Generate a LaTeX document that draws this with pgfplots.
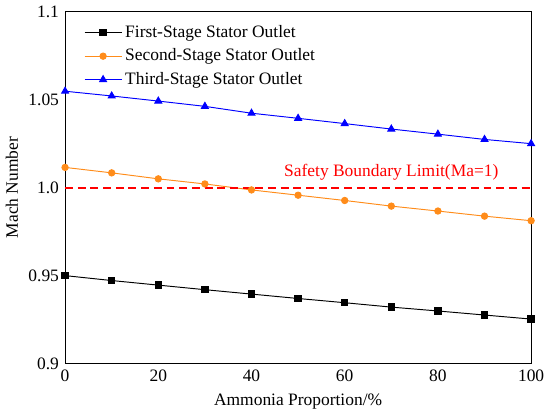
\documentclass[border=0pt]{standalone}
\usepackage{pgfplots}
\pgfplotsset{compat=1.18}
\usepackage{fontspec}
\setmainfont{Liberation Serif}
\definecolor{myorange}{RGB}{255,140,26}
\definecolor{myblue}{RGB}{0,0,255}
\definecolor{myred}{RGB}{255,0,0}
\begin{document}
\fontsize{11}{13}\selectfont
\begin{tikzpicture}
\begin{axis}[
  scale only axis,
  width=294pt, height=222pt,
  xmin=0, xmax=100, ymin=0.9, ymax=1.1,
  xtick={0,20,40,60,80,100},
  ytick={0.9,0.95,1.0,1.05,1.1},
  yticklabels={0.9,0.95,1.0,1.05,1.1},
  major tick length=0pt,
  tick label style={font=\fontsize{11}{13}\selectfont},
  label style={font=\fontsize{11}{13}\selectfont},
  /pgf/number format/assume math mode=true,
  xlabel={Ammonia Proportion/\%},
  ylabel={Mach Number},
  ylabel style={yshift=-1pt},
  axis line style={line width=0.6pt},
  legend style={draw=none, fill=none, at={(0.03,0.98)}, anchor=north west,
    font=\fontsize{11}{13}\selectfont, row sep=1.5pt},
  legend cell align=left,
  legend image code/.code={\draw[mark repeat=2,mark phase=2] plot coordinates {(0cm,0cm) (0.41cm,0cm) (0.82cm,0cm)};},
]
\addplot[black, line width=0.6pt, mark=square*, mark size=2pt] coordinates {
(0,0.950) (10,0.9472) (20,0.9446) (30,0.9420) (40,0.9395) (50,0.9370) (60,0.9346) (70,0.9321) (80,0.9299) (90,0.9276) (100,0.9253)};
\addlegendentry{First-Stage Stator Outlet}
\addplot[myorange, line width=0.6pt, mark=*, mark size=2pt] coordinates {
(0,1.0115) (10,1.0084) (20,1.0050) (30,1.0021) (40,0.9987) (50,0.9957) (60,0.9927) (70,0.9895) (80,0.9867) (90,0.9838) (100,0.9812)};
\addlegendentry{Second-Stage Stator Outlet}
\addplot[myblue, line width=0.6pt, mark=triangle*, mark size=2.5pt] coordinates {
(0,1.0548) (10,1.0521) (20,1.0492) (30,1.0462) (40,1.0423) (50,1.0394) (60,1.0364) (70,1.0333) (80,1.0304) (90,1.0274) (100,1.0250)};
\addlegendentry{Third-Stage Stator Outlet}
\addplot[myred, line width=1.4pt, dash pattern=on 5pt off 3pt, forget plot] coordinates {(0,1.0) (100,1.0)};
\node[text=myred, font=\fontsize{11}{13}\selectfont] at (axis cs:70,1.0088) {Safety Boundary Limit(Ma=1)};
\end{axis}
\end{tikzpicture}
\end{document}
